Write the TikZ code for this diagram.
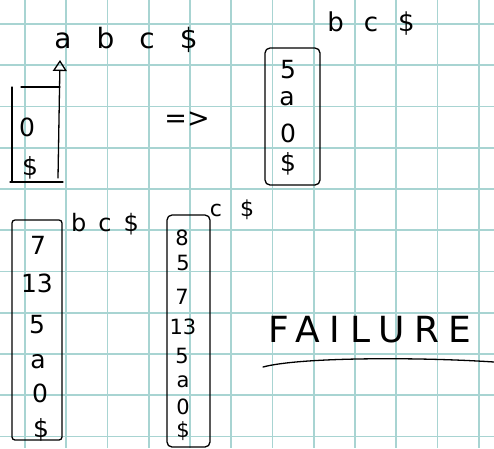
\documentclass[tikz,border=0pt]{standalone}
\usepackage{fontspec}
\setmainfont{DejaVu Sans}
\usetikzlibrary{arrows.meta}
\definecolor{gridc}{HTML}{A8D4D2}
\tikzset{
  pen/.style={line width=1.3pt, black, line cap=round, line join=round},
  hw/.style={font=\fontsize{25}{27}\selectfont, inner sep=0pt, text=black},
  hwsmall/.style={font=\fontsize{21}{23}\selectfont, inner sep=0pt, text=black},
  gridline/.style={gridc, line width=1.8pt},
  stackbox/.style={pen, rounded corners=5pt},
}
\begin{document}
\begin{tikzpicture}[x=1pt,y=-1pt]
\fill[white] (0,0) rectangle (494,448);
\useasboundingbox (0,0) rectangle (494,448);
% grid paper
\foreach \i in {0,...,11} \draw[gridline] ({25+41.25*\i},0) -- ({25+41.25*\i},448);
\foreach \j in {0,...,10} \draw[gridline] (0,{24+41.25*\j}) -- (494,{24+41.25*\j});

% ---- top left: input and stack ----
\node[hw, font=\fontsize{28}{30}\selectfont] (in1) at (126,40) {a\hspace{25pt}b\hspace{25pt}c\hspace{25pt}\$};
\coordinate (arrS) at (58,178);
\coordinate (arrE) at (60,60);
\draw[pen, -{Triangle[open, length=11pt, width=14pt]}] (arrS) -- (arrE);
\coordinate (tl1) at (21,87);
\coordinate (tr1) at (60,87);
\coordinate (lt1) at (12,87);
\coordinate (lb1) at (12,182);
\coordinate (bl1) at (10,182);
\coordinate (br1) at (63,182);
\draw[pen] (tl1) -- (tr1);
\draw[pen] (lt1) -- (lb1);
\draw[pen] (bl1) -- (br1);
\node[hw] (s1a) at (27,127) {0};
\node[hw] (s1b) at (30,168) {\$};

% ---- implies ----
\node[hw, font=\fontsize{27}{29}\selectfont] (impl) at (187,120) {=>};

% ---- top right ----
\node[hw, font=\fontsize{26}{28}\selectfont] (in2) at (371,24) {b\hspace{20pt}c\hspace{20pt}\$};
\node[stackbox, draw, minimum width=55pt, minimum height=137pt] (box2) at (292.5,116.5) {};
\node[hw] (s2a) at (288,70) {5};
\node[hw] (s2b) at (287,99) {a};
\node[hw] (s2c) at (288,133) {0};
\node[hw] (s2d) at (288,164) {\$};

% ---- bottom left ----
\node[stackbox, draw, rounded corners=3pt, minimum width=50pt, minimum height=220pt] (box3) at (37,330) {};
\node[hw] (s3a) at (38,245) {7};
\node[hw] (s3b) at (37,283) {13};
\node[hw] (s3c) at (37,325) {5};
\node[hw] (s3d) at (38,362) {a};
\node[hw] (s3e) at (40,393) {0};
\node[hw] (s3f) at (41,430) {\$};
\node[hw, font=\fontsize{24}{26}\selectfont] (in3) at (105,224) {b\hspace{12pt}c\hspace{12pt}\$};

% ---- bottom middle ----
\node[stackbox, draw, minimum width=43pt, minimum height=232pt] (box4) at (188.5,331) {};
\node[hwsmall] (s4a) at (182,238) {8};
\node[hwsmall] (s4b) at (183,263) {5};
\node[hwsmall] (s4c) at (182,297) {7};
\node[hwsmall] (s4d) at (183,327) {13};
\node[hwsmall] (s4e) at (182,356) {5};
\node[hwsmall] (s4f) at (183,382) {a};
\node[hwsmall] (s4g) at (183,407) {0};
\node[hwsmall] (s4h) at (183,431) {\$};
\node[hw, font=\fontsize{22}{24}\selectfont] (in4) at (232,210) {c\hspace{18pt}\$};

% ---- failure ----
\node[hw, font=\fontsize{36}{38}\selectfont\addfontfeature{LetterSpace=27}] (fail) at (370,330) {FAILURE};
\coordinate (ulS) at (263,367);
\coordinate (ulE) at (494,362);
\draw[pen] (ulS) .. controls (300,357) and (420,357) .. (ulE);
\end{tikzpicture}
\end{document}
